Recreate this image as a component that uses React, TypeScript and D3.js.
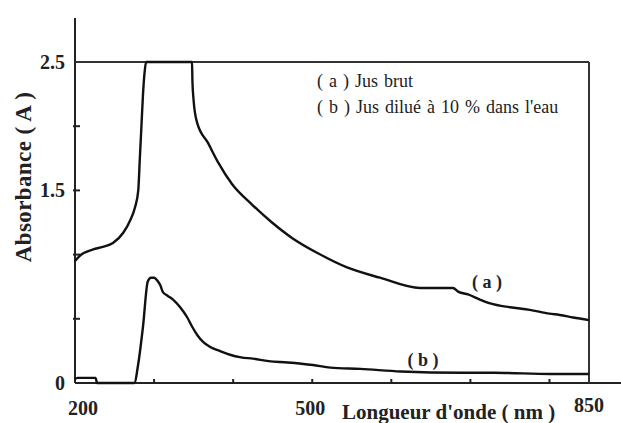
import React from "react";
import * as d3 from "d3";

// spectre (a) jus brut
const wavelengthA = [200, 206, 223, 235, 248, 261, 270, 276, 280, 282, 284, 286, 288, 290, 348, 348.5, 350, 354.3, 368.2, 380.8, 398.5, 423.8, 449.1, 474.4, 507.3, 544, 585.7, 636.3, 678, 685, 697, 712, 725, 750, 775, 800, 813, 830, 850];
const absorbanceA = [0.95, 0.99, 1.04, 1.06, 1.09, 1.17, 1.27, 1.37, 1.5, 1.75, 2.0, 2.25, 2.42, 2.5, 2.5, 2.35, 2.2, 2.03, 1.87, 1.72, 1.55, 1.39, 1.25, 1.13, 1.01, 0.9, 0.82, 0.74, 0.74, 0.71, 0.69, 0.65, 0.62, 0.59, 0.57, 0.54, 0.53, 0.51, 0.49];

// spectre (b) jus dilué 10 %
const wavelengthB = [200, 203, 226, 228, 275, 280, 286, 292, 296, 300, 305, 308, 311, 317, 324, 333, 342, 348, 355, 362, 371, 383, 396, 410, 425, 445, 469, 501, 523, 561, 612, 688, 730, 802, 850];
const absorbanceB = [0.03, 0.04, 0.04, 0.0, 0.0, 0.15, 0.44, 0.79, 0.82, 0.82, 0.79, 0.76, 0.71, 0.68, 0.65, 0.59, 0.51, 0.44, 0.37, 0.32, 0.28, 0.25, 0.22, 0.2, 0.19, 0.17, 0.16, 0.14, 0.12, 0.11, 0.09, 0.08, 0.08, 0.07, 0.07];

const yTickValues = [0.5, 1, 1.5, 2];
const yLabelValues = [0, 1.5, 2.5];
const yTickLabels = ["0", "1.5", "2.5"];
const xTickValues = [300, 400, 500, 600, 700, 800];
const xLabelValues = [200, 500, 850];
const xTickLabels = ["200", "500", "850"];
const legendLines = ["( a ) Jus brut", "( b ) Jus dilué à 10 % dans l'eau"];

const W = 621, H = 423;
const FONT = "Liberation Serif";

export default function App() {
  const x = d3.scaleLinear().domain([200, 850]).range([75, 589]);
  const y = d3.scaleLinear().domain([0, 2.5]).range([383, 62]);

  const line = d3.line<[number, number]>().x(d => x(d[0])).y(d => y(d[1])).curve(d3.curveMonotoneX);
  const dataA = wavelengthA.map((w, i) => [w, absorbanceA[i]] as [number, number]);
  const dataB = wavelengthB.map((w, i) => [w, absorbanceB[i]] as [number, number]);

  const bold = { fontFamily: FONT, fontWeight: "bold" as const };
  const xOff = [8, -2, 0];
  const yOff = [415, 415, 412];

  return (
    <svg width={W} height={H} style={{ position: "absolute", left: 0, top: 0, background: "#fff" }}>
      {/* frame */}
      <line x1={x(200)} x2={x(200)} y1={18} y2={y(0)} stroke="#222" strokeWidth={2} />
      <line x1={x(200)} x2={W} y1={y(0)} y2={y(0)} stroke="#222" strokeWidth={2} />
      <line x1={x(200)} x2={x(850)} y1={y(2.5)} y2={y(2.5)} stroke="#333" strokeWidth={2} />
      <line x1={x(850)} x2={x(850)} y1={y(2.5)} y2={y(0)} stroke="#333" strokeWidth={2} />

      {/* ticks */}
      {yTickValues.map(v => (
        <line key={"yt" + v} x1={x(200) - 2} x2={x(200) + 5} y1={y(v)} y2={y(v)} stroke="#222" strokeWidth={2} />
      ))}
      {xTickValues.map(v => (
        <line key={"xt" + v} x1={x(v)} x2={x(v)} y1={y(0)} y2={y(0) - 4} stroke="#222" strokeWidth={2} />
      ))}

      {/* curves */}
      {[dataA, dataB].map((d, i) => (
        <path key={"c" + i} d={line(d)!} fill="none" stroke="#111" strokeWidth={2.4} strokeLinejoin="round" />
      ))}

      {/* tick labels */}
      {yLabelValues.map((v, i) => (
        <text key={"yl" + v} x={65} y={y(v) + 7} textAnchor="end" fontSize={20} fill="#222" style={bold}>
          {yTickLabels[i]}
        </text>
      ))}
      {xLabelValues.map((v, i) => (
        <text key={"xl" + v} x={x(v) + xOff[i]} y={yOff[i]} textAnchor="middle" fontSize={20} fill="#222" style={bold}>
          {xTickLabels[i]}
        </text>
      ))}

      {/* axis titles */}
      <text x={342} y={419} fontSize={21} fill="#222" style={bold}>Longueur d'onde ( nm )</text>
      <text transform="translate(31,177) rotate(-90)" textAnchor="middle" fontSize={23} fill="#222"
        style={{ ...bold, letterSpacing: "0.4px" }}>
        Absorbance ( A )
      </text>

      {/* legend */}
      {legendLines.map((s, i) => (
        <text key={"lg" + i} x={317} y={87 + i * 26} fontSize={18} fill="#222"
          style={{ fontFamily: FONT, wordSpacing: "1.5px" }}>
          {s}
        </text>
      ))}

      {/* curve labels */}
      <text x={487} y={288} textAnchor="middle" fontSize={18} fill="#222" style={bold}>( a )</text>
      <text x={423} y={366} textAnchor="middle" fontSize={18} fill="#222" style={bold}>( b )</text>
    </svg>
  );
}
